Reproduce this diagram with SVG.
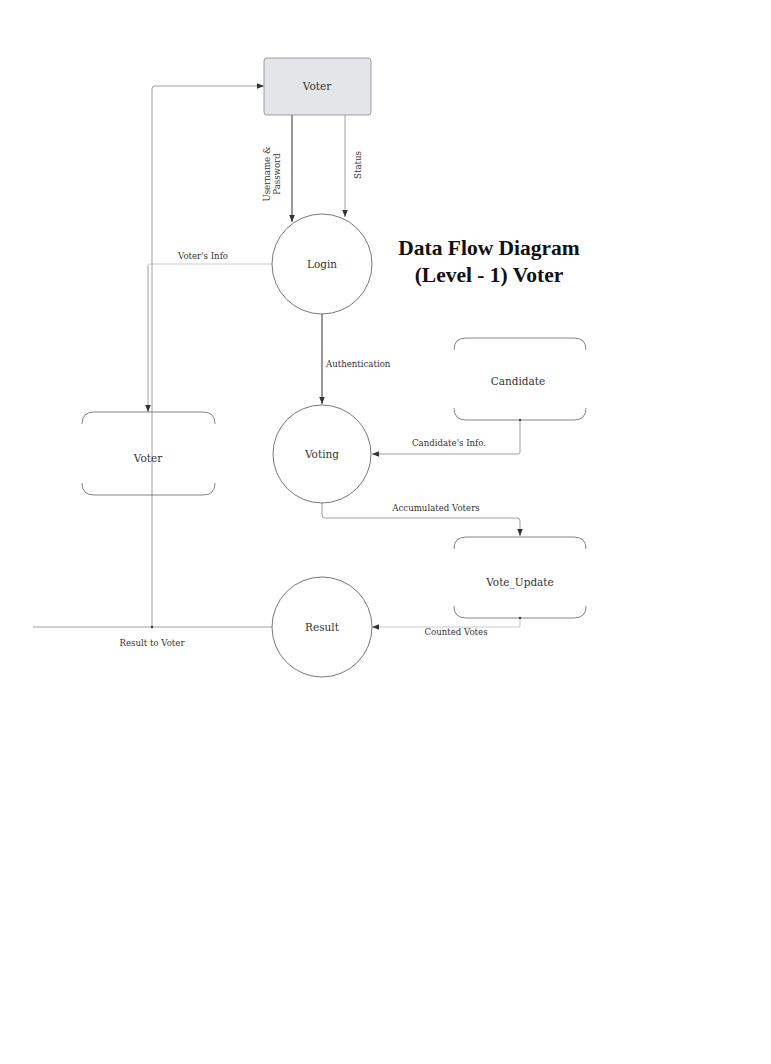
<svg xmlns="http://www.w3.org/2000/svg" width="771" height="1064" viewBox="0 0 771 1064">
<defs>
<marker id="ah" viewBox="0 0 10 10" refX="10" refY="5" markerWidth="7" markerHeight="7" markerUnits="userSpaceOnUse" orient="auto"><path d="M0,1 L10,5 L0,9 z" fill="#333"/></marker>
<style>
.lbl{font-family:"DejaVu Serif","Liberation Serif",serif;font-size:8.6px;fill:#333}
.nt{font-family:"DejaVu Serif","Liberation Serif",serif;font-size:10.5px;fill:#333;text-anchor:middle}
.proc{fill:#fff;stroke:#555;stroke-width:0.8}
.store{fill:none;stroke:#666;stroke-width:0.8}
.dark{fill:none;stroke:#333;stroke-width:1}
.gray{fill:none;stroke:#888;stroke-width:0.8}
.light{fill:none;stroke:#ccc;stroke-width:1.2}
.title{font-family:"Liberation Serif",serif;font-weight:bold;font-size:21.5px;fill:#111;text-anchor:middle}
</style>
</defs>
<rect width="771" height="1064" fill="#fff"/>
<g id="connectors">
<path class="dark" d="M292,115 V222" marker-end="url(#ah)"/>
<path class="gray" d="M345,115 V217" marker-end="url(#ah)"/>
<path class="light" d="M272,264 H150 Q148,264 148,266"/>
<path class="gray" d="M148,266 V412" marker-end="url(#ah)"/>
<path class="gray" d="M152,627 V89 Q152,86 155,86 H264" marker-end="url(#ah)"/>
<path class="gray" d="M272,627 H33"/>
<circle cx="152" cy="627" r="1.2" fill="#333"/>
<path class="dark" d="M322,314 V404" marker-end="url(#ah)"/>
<path class="gray" d="M520,420 V452 Q520,454 518,454 H372" marker-end="url(#ah)"/>
<circle cx="520" cy="420" r="1.2" fill="#333"/>
<path class="gray" d="M322,503 V515 Q322,518 325,518 H517 Q520,518 520,521 V536" marker-end="url(#ah)"/>
<path class="light" d="M520,618 V625 Q520,627 518,627 H372" marker-end="url(#ah)"/>
<circle cx="520" cy="618" r="1.2" fill="#333"/>
<text class="lbl" transform="translate(270,174) rotate(-90)" text-anchor="middle">Username &amp;</text>
<text class="lbl" transform="translate(280,174) rotate(-90)" text-anchor="middle">Password</text>
<text class="lbl" transform="translate(361,165) rotate(-90)" text-anchor="middle">Status</text>
<text class="lbl" x="203" y="259" text-anchor="middle">Voter's Info</text>
<text class="lbl" x="326" y="367">Authentication</text>
<text class="lbl" x="449" y="446" text-anchor="middle">Candidate's Info.</text>
<text class="lbl" x="436" y="511" text-anchor="middle">Accumulated Voters</text>
<text class="lbl" x="456" y="635" text-anchor="middle">Counted Votes</text>
<text class="lbl" x="152" y="646" text-anchor="middle">Result to Voter</text>
</g>
<g id="voter-entity">
<rect x="264" y="58" width="107" height="57" rx="3" fill="#e3e5e9" stroke="#888" stroke-width="0.8"/>
<text class="nt" x="317" y="90">Voter</text>
</g>
<g id="login">
<circle class="proc" cx="322" cy="264" r="50"/>
<text class="nt" x="322" y="268">Login</text>
</g>
<g id="voting">
<circle class="proc" cx="322" cy="454" r="49"/>
<text class="nt" x="322" y="458">Voting</text>
</g>
<g id="result">
<circle class="proc" cx="322" cy="627" r="50"/>
<text class="nt" x="322" y="631">Result</text>
</g>
<g id="voter-store">
<path class="store" d="M82,424 Q82,412 94,412 H203 Q215,412 215,424 M82,483 Q82,495 94,495 H203 Q215,495 215,483"/>
<text class="nt" x="148" y="462">Voter</text>
</g>
<g id="candidate-store">
<path class="store" d="M454,350 Q454,338 466,338 H574 Q586,338 586,350 M454,408 Q454,420 466,420 H574 Q586,420 586,408"/>
<text class="nt" x="518" y="385">Candidate</text>
</g>
<g id="vote-update-store">
<path class="store" d="M454,549 Q454,537 466,537 H574 Q586,537 586,549 M454,606 Q454,618 466,618 H574 Q586,618 586,606"/>
<text class="nt" x="520" y="586">Vote_Update</text>
</g>
<g id="title">
<text class="title" x="489" y="255">Data Flow Diagram</text>
<text class="title" x="489" y="282">(Level - 1) Voter</text>
</g>
</svg>
